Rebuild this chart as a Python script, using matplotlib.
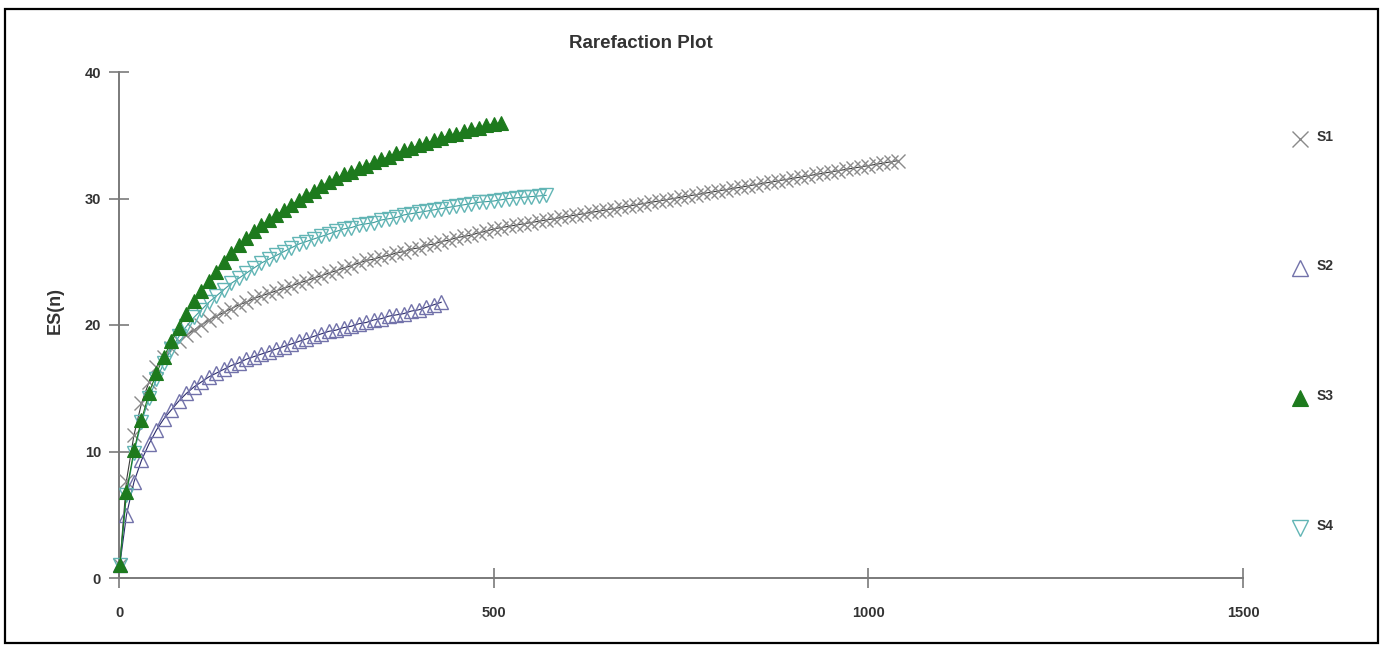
import matplotlib
matplotlib.use("Agg")
import matplotlib.pyplot as plt
from matplotlib.patches import Rectangle

plt.rcParams['font.family'] = ['Liberation Sans', 'DejaVu Sans']

# ---- sample sizes n (rarefied) and expected species ES(n) ----
n_s1 = [1] + list(range(10, 1041, 10))
es_s1 = [1.0, 7.7, 11.3, 13.8, 15.5, 16.7, 17.5, 18.2, 18.7, 19.2,
         19.6, 20.0, 20.4, 20.7, 21.0, 21.3, 21.6, 21.8, 22.1, 22.3,
         22.5, 22.7, 22.9, 23.1, 23.3, 23.5, 23.7, 23.9, 24.1, 24.3,
         24.5, 24.7, 24.9, 25.1, 25.2, 25.4, 25.5, 25.7, 25.8, 26.0,
         26.1, 26.3, 26.4, 26.6, 26.7, 26.9, 27.0, 27.1, 27.3, 27.4,
         27.6, 27.7, 27.8, 27.9, 28.0, 28.1, 28.2, 28.3, 28.4, 28.5,
         28.6, 28.7, 28.8, 28.9, 29.0, 29.1, 29.2, 29.3, 29.4, 29.5,
         29.6, 29.7, 29.8, 29.9, 30.0, 30.1, 30.2, 30.3, 30.4, 30.5,
         30.6, 30.7, 30.8, 30.9, 31.0, 31.1, 31.2, 31.3, 31.4, 31.5,
         31.6, 31.7, 31.8, 31.9, 32.0, 32.1, 32.2, 32.3, 32.4, 32.5,
         32.6, 32.7, 32.8, 32.9, 33.0]

n_s2 = [1] + list(range(10, 431, 10))
es_s2 = [1.0, 5.0, 7.6, 9.3, 10.6, 11.7, 12.6, 13.3, 14.0, 14.6,
         15.1, 15.5, 15.9, 16.2, 16.5, 16.8, 17.0, 17.3, 17.5, 17.7,
         17.9, 18.1, 18.3, 18.5, 18.7, 18.9, 19.1, 19.3, 19.5, 19.6,
         19.8, 19.9, 20.1, 20.2, 20.4, 20.5, 20.7, 20.8, 20.9, 21.1,
         21.2, 21.4, 21.6, 21.8]

n_s3 = [1] + list(range(10, 511, 10))
es_s3 = [1.0, 6.8, 10.1, 12.5, 14.6, 16.2, 17.5, 18.7, 19.8, 20.9,
         21.9, 22.7, 23.5, 24.2, 25.0, 25.7, 26.3, 26.9, 27.4, 27.9,
         28.3, 28.7, 29.1, 29.5, 29.9, 30.3, 30.6, 31.0, 31.3, 31.6,
         31.9, 32.1, 32.4, 32.6, 32.9, 33.1, 33.3, 33.6, 33.8, 34.0,
         34.2, 34.4, 34.6, 34.8, 35.0, 35.1, 35.3, 35.5, 35.6, 35.8,
         35.9, 36.0]

n_s4 = [1] + list(range(10, 571, 10))
es_s4 = [1.0, 6.6, 9.9, 12.3, 14.2, 15.7, 17.0, 18.1, 19.1, 19.9,
         20.6, 21.2, 21.8, 22.3, 22.8, 23.3, 23.7, 24.1, 24.5, 24.9,
         25.2, 25.5, 25.8, 26.1, 26.4, 26.6, 26.8, 27.0, 27.2, 27.4,
         27.6, 27.7, 27.9, 28.0, 28.1, 28.3, 28.4, 28.5, 28.7, 28.8,
         28.9, 29.0, 29.1, 29.2, 29.3, 29.4, 29.5, 29.6, 29.7, 29.75,
         29.8, 29.9, 30.0, 30.05, 30.1, 30.15, 30.2, 30.25]

labels = ['S1', 'S2', 'S3', 'S4']

# ---- figure ----
fig = plt.figure(figsize=(13.82, 6.47), dpi=100)
fig.patches.append(Rectangle((5 / 1382, 4 / 647), 1373 / 1382, 634 / 647,
                             transform=fig.transFigure, fill=False,
                             edgecolor='black', linewidth=1.6))

ax = fig.add_axes([119 / 1382, 69 / 647, 1124 / 1382, 506 / 647])

styles = {
    'S1': dict(marker='x', ms=10.5, mec='#8a8a8a', mfc='none', mew=1.0, color='#3a3a3a', lw=0.8),
    'S2': dict(marker='^', ms=10.5, mec='#7272aa', mfc='none', mew=1.0, color='#2a2a6a', lw=0.8),
    'S3': dict(marker='^', ms=10.5, mec='#1d7a1d', mfc='#1d7a1d', mew=0.8, color='#1d7a1d', lw=0.8),
    'S4': dict(marker='v', ms=10.5, mec='#62b5b5', mfc='none', mew=1.0, color='#3e9c9c', lw=0.8),
}

series = {'S1': (n_s1, es_s1), 'S2': (n_s2, es_s2),
          'S3': (n_s3, es_s3), 'S4': (n_s4, es_s4)}
zorders = {'S1': 3, 'S2': 3, 'S3': 5, 'S4': 4}

for lab in labels:
    x, y = series[lab]
    ax.plot(x, y, clip_on=False, zorder=zorders[lab], **styles[lab])

ax.set_xlim(0, 1500)
ax.set_ylim(0, 40)
ax.set_xticks([0, 500, 1000, 1500])
ax.set_yticks([0, 10, 20, 30, 40])

for side in ['top', 'right']:
    ax.spines[side].set_visible(False)
for side in ['left', 'bottom']:
    ax.spines[side].set_color('#7a7a7a')
    ax.spines[side].set_linewidth(1.4)

ax.tick_params(direction='inout', length=14, width=1.2, color='#7a7a7a',
               labelsize=10.5, labelcolor='#333333')
ax.tick_params(axis='y', pad=6)
ax.tick_params(axis='x', pad=13)
for t in ax.get_xticklabels() + ax.get_yticklabels():
    t.set_fontweight('bold')

fig.text(641 / 1382, 1 - 44 / 647, 'Rarefaction Plot', ha='center', va='center',
         fontsize=13.5, fontweight='bold', color='#333333')
fig.text(55 / 1382, 1 - 310 / 647, 'ES(n)', ha='center', va='center', rotation=90,
         fontsize=13, fontweight='bold', color='#333333')

# ---- legend on the right ----
leg_y = [139, 268, 398, 528]
for lab, py in zip(labels, leg_y):
    st = styles[lab]
    fig.lines.append(plt.Line2D([1300 / 1382], [1 - py / 647], transform=fig.transFigure,
                                linestyle='none', marker=st['marker'], markersize=12,
                                markeredgecolor=st['mec'], markerfacecolor=st['mfc'],
                                markeredgewidth=st['mew']))
    fig.text(1317 / 1382, 1 - (py - 2) / 647, lab, ha='left', va='center',
             fontsize=10, fontweight='bold', color='#333333')

fig.savefig('out.png', dpi=100)
